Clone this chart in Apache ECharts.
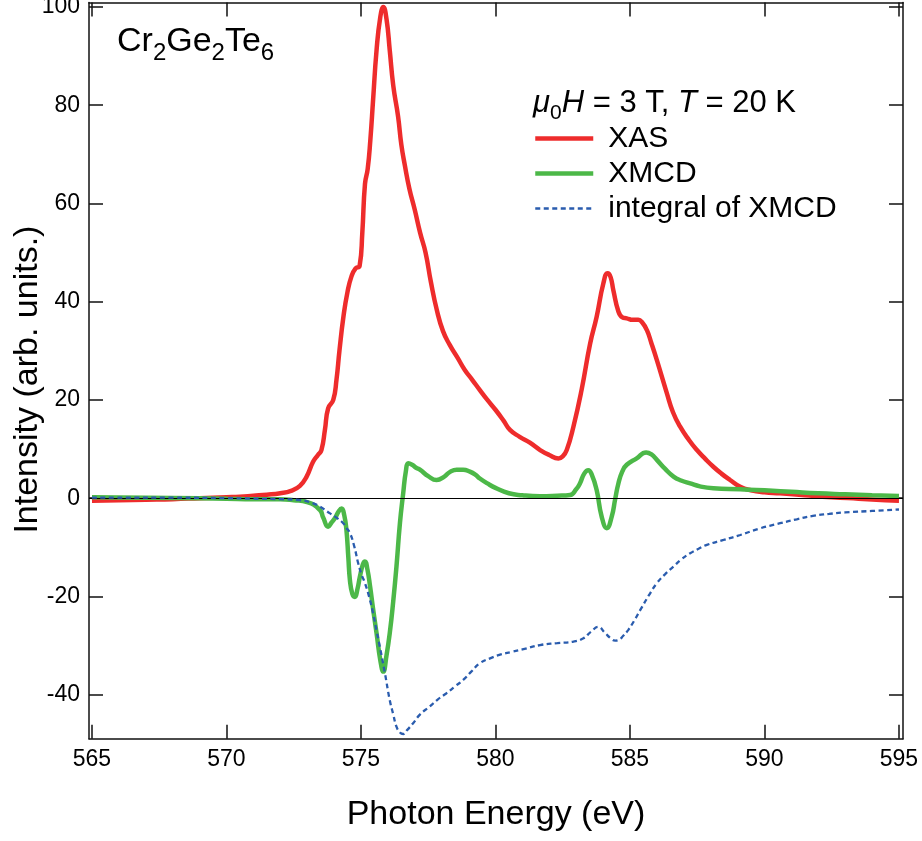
<!DOCTYPE html>
<html>
<head>
<meta charset="utf-8">
<script src="https://cdn.jsdelivr.net/npm/echarts@6/dist/echarts.min.js"></script>
<style>
html,body{margin:0;padding:0;background:#fff;}
#c{width:922px;height:841px;}
</style>
</head>
<body>
<div id="c"></div>
<script>
// ---- data ----
var xTicks = [565, 570, 575, 580, 585, 590, 595];
var yTicks = [-40, -20, 0, 20, 40, 60, 80, 100];
var seriesNames = ['XAS', 'XMCD', 'integral of XMCD'];

var xasE = [565, 566, 567, 568, 569, 570, 570.5, 571, 571.5, 572, 572.4, 572.73, 572.98, 573.22, 573.4, 573.53, 573.66, 573.78, 573.97, 574.09, 574.2, 574.35, 574.5, 574.65, 574.8, 574.95, 575.05, 575.15, 575.25, 575.35, 575.45, 575.58, 575.72, 575.83, 575.95, 576.07, 576.2, 576.38, 576.5, 576.63, 576.8, 577.0, 577.2, 577.4, 577.6, 577.82, 578.05, 578.3, 578.6, 578.86, 579.15, 579.42, 579.7, 580, 580.3, 580.54, 580.9, 581.28, 581.66, 582, 582.34, 582.5, 582.65, 582.9, 583.2, 583.52, 583.76, 584.01, 584.17, 584.28, 584.38, 584.57, 584.72, 584.88, 585.1, 585.31, 585.45, 585.63, 585.8, 586.0, 586.37, 586.6, 586.86, 587.2, 587.49, 587.8, 588.1, 588.4, 588.72, 589.1, 589.5, 590, 590.58, 591.5, 592.5, 593.5, 594.5, 595];
var xasI = [-0.5, -0.4, -0.3, -0.2, 0, 0.2, 0.3, 0.5, 0.7, 1.0, 1.5, 2.5, 4.4, 7.4, 8.8, 9.8, 13.9, 18.3, 20.0, 24.1, 30, 37, 42, 45.2, 46.8, 47.3, 54, 64, 67, 73, 81, 91.2, 98, 100, 97.5, 91.2, 84, 77.7, 72, 67.8, 63, 58.7, 54, 50, 44, 38.3, 34, 31.2, 28.5, 26.1, 24, 22, 20, 18, 15.8, 13.9, 12.5, 11.3, 9.8, 8.8, 8.1, 8.5, 9.8, 14.6, 22, 31.5, 36.9, 43.7, 45.8, 45, 42.4, 38, 36.8, 36.6, 36.3, 36.3, 35.8, 34.2, 31.5, 28.1, 21.4, 17.5, 14.6, 11.8, 9.8, 8, 6.4, 5, 3.7, 2.3, 1.6, 1.2, 1.0, 0.6, 0.2, -0.1, -0.4, -0.5];

var xmcdE = [565, 567, 569, 570, 571, 572, 572.5, 573, 573.47, 573.6, 573.78, 573.9, 574.03, 574.18, 574.28, 574.38, 574.46, 574.53, 574.59, 574.68, 574.77, 574.87, 574.96, 575.07, 575.15, 575.24, 575.34, 575.45, 575.58, 575.72, 575.83, 575.95, 576.07, 576.2, 576.32, 576.45, 576.57, 576.67, 576.76, 576.9, 577.05, 577.19, 577.5, 577.81, 578.1, 578.3, 578.56, 578.8, 579.05, 579.25, 579.42, 579.7, 580, 580.5, 581, 581.66, 582.3, 582.77, 583.0, 583.14, 583.3, 583.45, 583.58, 583.76, 583.95, 584.14, 584.32, 584.45, 584.57, 584.72, 584.88, 585.25, 585.6, 585.8, 586.0, 586.3, 586.62, 586.9, 587.24, 587.6, 588.1, 589.1, 590, 591, 592, 593, 594, 595];
var xmcdI = [0.2, 0.1, 0, -0.1, -0.2, -0.2, -0.4, -0.8, -2.4, -4, -5.8, -5, -4.1, -2.6, -2.1, -3.5, -6.5, -12, -16.7, -19.5, -20.1, -18.5, -16, -13.5, -12.9, -14.5, -18, -22.5, -27.5, -33, -35.3, -32, -27.5, -21, -13.9, -5, 1.0, 5.5, 7.1, 6.8, 6.2, 5.8, 4.5, 3.7, 4.4, 5.3, 5.8, 5.8, 5.4, 4.8, 4.0, 3.0, 2.1, 1.0, 0.6, 0.4, 0.5, 0.65, 1.8, 3.0, 5.0, 5.7, 4.8, 1.7, -3.8, -6.1, -3.8, -0.2, 3.0, 5.5, 6.8, 8.1, 9.3, 8.9, 7.8, 6.0, 4.4, 3.6, 3.0, 2.4, 2.0, 1.8, 1.6, 1.3, 1.0, 0.8, 0.6, 0.45];

var intE = [565, 568, 570, 571, 572, 572.73, 573.2, 573.47, 573.85, 574.1, 574.34, 574.45, 574.59, 574.75, 574.9, 575.02, 575.15, 575.3, 575.45, 575.58, 575.7, 575.89, 576.07, 576.2, 576.32, 576.45, 576.57, 576.7, 576.94, 577.2, 577.56, 577.85, 578.18, 578.5, 578.8, 579.1, 579.42, 579.8, 580.2, 580.6, 581.0, 581.66, 582.3, 582.9, 583.27, 583.55, 583.83, 584.05, 584.3, 584.45, 584.57, 584.75, 584.94, 585.15, 585.38, 585.7, 586.0, 586.3, 586.62, 586.9, 587.24, 587.55, 587.86, 588.48, 589.1, 589.8, 590.58, 591.2, 591.8, 592.4, 593, 594, 595];
var intI = [0.1, 0.1, 0, -0.1, -0.2, -0.4, -1.0, -1.7, -3.1, -4.0, -5.1, -6, -7.1, -9.8, -13.3, -15.5, -17.3, -20, -23.4, -27, -30.2, -35.6, -41.1, -44, -46.5, -47.7, -48.0, -47.3, -45.8, -44, -42.4, -41, -39.7, -38.3, -37.0, -35.3, -33.6, -32.6, -31.8, -31.3, -30.8, -29.9, -29.5, -29.2, -28.5, -27.2, -26.2, -27.3, -28.6, -29.0, -28.9, -28, -26.8, -25, -22.8, -19.8, -17.3, -15.5, -13.9, -12.5, -11.2, -10.3, -9.5, -8.5, -7.5, -6.2, -5.1, -4.3, -3.6, -3.2, -2.9, -2.6, -2.3];

function pairs(xs, ys) { return xs.map(function (x, i) { return [x, ys[i]]; }); }

var FONT = '"Liberation Sans", Arial, Helvetica, sans-serif';
var frameLine = { show: true, onZero: false, lineStyle: { color: '#111', width: 1.5 } };
var tickIn = { show: true, inside: true, length: 14, lineStyle: { color: '#111', width: 1.5 } };

var chart = echarts.init(document.getElementById('c'), null, { renderer: 'canvas' });
chart.setOption({
  animation: false,
  backgroundColor: '#fff',
  textStyle: { fontFamily: FONT },
  grid: { left: 89, right: 19, top: 2.5, bottom: 102.3, containLabel: false, outerBoundsMode: 'none' },
  legend: {
    data: seriesNames,
    orient: 'vertical',
    left: 533,
    top: 121,
    padding: 0,
    itemWidth: 58,
    itemHeight: 14,
    itemGap: 0,
    selectedMode: false,
    itemStyle: { opacity: 0 },
    lineStyle: { width: 'inherit', type: 'inherit' },
    textStyle: { fontFamily: FONT, fontSize: 30, color: '#000', lineHeight: 35, padding: [0, 0, 0, 10] }
  },
  xAxis: [
    {
      type: 'value', position: 'bottom', min: 564.89, max: 595.15,
      axisLine: frameLine, axisTick: Object.assign({ customValues: xTicks }, tickIn),
      splitLine: { show: false },
      axisLabel: { customValues: xTicks, fontSize: 23, color: '#000', margin: 9, fontFamily: FONT },
      name: 'Photon Energy (eV)', nameLocation: 'middle', nameGap: 59, nameMoveOverlap: false,
      nameTextStyle: { fontSize: 34, color: '#000', fontFamily: FONT }
    },
    {
      type: 'value', position: 'top', min: 564.89, max: 595.15,
      axisLine: frameLine, axisTick: Object.assign({ customValues: xTicks }, tickIn),
      splitLine: { show: false }, axisLabel: { show: false }
    }
  ],
  yAxis: [
    {
      type: 'value', position: 'left', min: -48.96, max: 100.9,
      axisLine: frameLine, axisTick: Object.assign({ customValues: yTicks }, tickIn),
      splitLine: { show: false },
      axisLabel: { customValues: yTicks, fontSize: 23, color: '#000', margin: 9, fontFamily: FONT },
      name: 'Intensity (arb. units.)', nameLocation: 'middle', nameGap: 44, nameRotate: 90, nameMoveOverlap: false,
      nameTextStyle: { fontSize: 34, color: '#000', fontFamily: FONT, padding: [0, 18, 0, 0] }
    },
    {
      type: 'value', position: 'right', min: -48.96, max: 100.9,
      axisLine: frameLine, axisTick: Object.assign({ customValues: yTicks }, tickIn),
      splitLine: { show: false }, axisLabel: { show: false }
    }
  ],
  series: [
    {
      name: seriesNames[0], type: 'line', data: pairs(xasE, xasI),
      xAxisIndex: 0, yAxisIndex: 0, showSymbol: false, symbol: 'none', smooth: 0.5,
      lineStyle: { color: '#ee2c2c', width: 4.5 }, itemStyle: { color: '#ee2c2c' }, z: 3,
      markLine: {
        silent: true, symbol: 'none', label: { show: false },
        lineStyle: { color: '#000', width: 1, type: 'solid' },
        data: [{ yAxis: 0 }]
      }
    },
    {
      name: seriesNames[1], type: 'line', data: pairs(xmcdE, xmcdI),
      xAxisIndex: 0, yAxisIndex: 0, showSymbol: false, symbol: 'none', smooth: 0.5,
      lineStyle: { color: '#4cb848', width: 4.5 }, itemStyle: { color: '#4cb848' }, z: 4
    },
    {
      name: seriesNames[2], type: 'line', data: pairs(intE, intI),
      xAxisIndex: 0, yAxisIndex: 0, showSymbol: false, symbol: 'none', smooth: 0.5,
      lineStyle: { color: '#2a5cae', width: 2.3, type: [5, 3.5] }, itemStyle: { color: '#2a5cae' }, z: 5
    }
  ],
  graphic: [
    {
      type: 'text', left: 117, top: 25,
      style: {
        text: '{b|Cr}{s|2}{b|Ge}{s|2}{b|Te}{s|6}',
        fill: '#000',
        rich: {
          b: { fontSize: 34, lineHeight: 46, fontFamily: FONT, fill: '#000' },
          s: { fontSize: 24, lineHeight: 24, verticalAlign: 'bottom', fontFamily: FONT, fill: '#000' }
        }
      }
    },
    {
      type: 'text', left: 533, top: 88,
      style: {
        text: '{i|μ}{s|0}{i|H}{b| = 3 T, }{i|T}{b| = 20 K}',
        fill: '#000',
        rich: {
          b: { fontSize: 31, lineHeight: 40, fontFamily: FONT, fill: '#000' },
          i: { fontSize: 31, lineHeight: 40, fontStyle: 'italic', fontFamily: FONT, fill: '#000' },
          s: { fontSize: 21, lineHeight: 21, verticalAlign: 'bottom', fontFamily: FONT, fill: '#000' }
        }
      }
    }
  ]
});
</script>
</body>
</html>
